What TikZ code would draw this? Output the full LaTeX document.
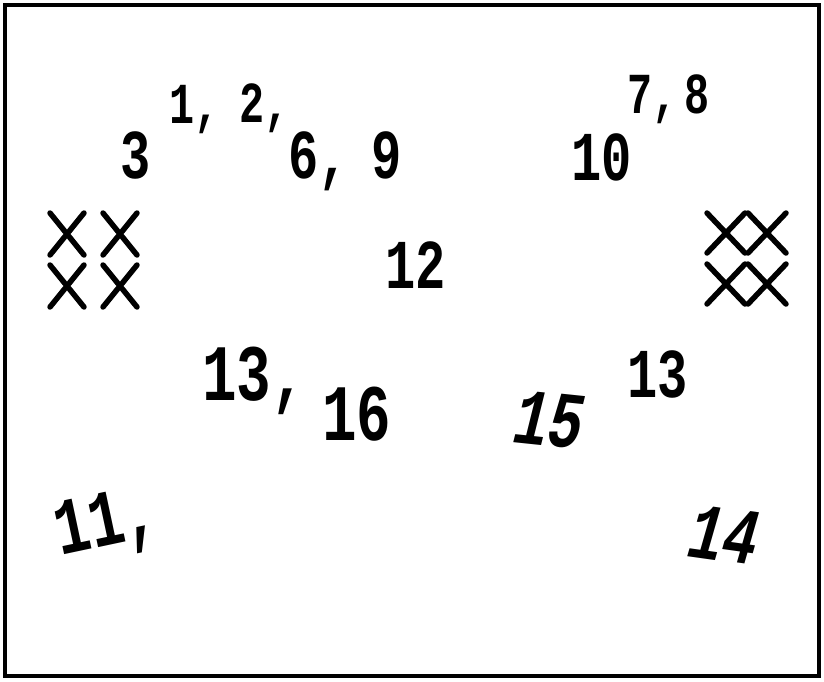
\documentclass[tikz,border=0pt]{standalone}
\usepackage{fontspec}
\newfontfamily\hand[FakeStretch=0.72]{Liberation Mono}
\usetikzlibrary{positioning}
\tikzset{
lbl/.style={anchor=base west, inner sep=0pt, text=black},
smallnum/.style={lbl, font=\hand\bfseries\fontsize{58}{58}\selectfont},
midnum/.style={lbl, font=\hand\bfseries\fontsize{70}{70}\selectfont},
bignum/.style={lbl, font=\hand\bfseries\fontsize{80}{80}\selectfont},
slantnum/.style={bignum, font=\hand\bfseries\itshape\fontsize{80}{80}\selectfont},
xline/.style={line width=5.5pt, line cap=round}
}
\begin{document}
\begin{tikzpicture}[x=1pt,y=-1pt]
\useasboundingbox (0,0) rectangle (824,681);

% -------- Frame --------
\draw[line width=3.5pt] (5,5) rectangle (819,676);

% -------- Upper row of numbers --------
\node[midnum] (n3) at (120,178) {3};
\node[smallnum] (n1) at (169,123) {1,};
\node[smallnum] (n2) at (239,122) {2,};
\node[midnum] (n6) at (288,178) {6,};
\node[midnum] (n9) at (371,178) {9};
\node[midnum] (n10) at (571,180) {10};
\node[smallnum] (n7) at (627,113) {7,};
\node[smallnum] (n8) at (684,113) {8};

% -------- Middle --------
\node[midnum] (n12) at (385,288) {12};
\node[bignum] (n13a) at (202,400) {13,};
\node[bignum] (n16) at (322,440) {16};
\node[slantnum, rotate=-6] (n15) at (512,442) {15};
\node[midnum] (n13b) at (627,397) {13};

% -------- Bottom --------
\node[bignum, rotate=12] (n11) at (60,556) {11,};
\node[slantnum, rotate=-8] (n14) at (686,556) {14};

% -------- Cross marks, left --------
\foreach \cx/\cy in {67/234, 120/234, 67/286, 120/286}
  \draw[xline, shift={(\cx,\cy)}] (-17,-21) -- (17,21) (-17,21) -- (17,-21);

% -------- Cross marks, right --------
\foreach \cx/\cy in {726/233, 767/233, 726/284, 767/284}
  \draw[xline, shift={(\cx,\cy)}] (-19,-20) -- (19,20) (-19,20) -- (19,-20);

\end{tikzpicture}
\end{document}
